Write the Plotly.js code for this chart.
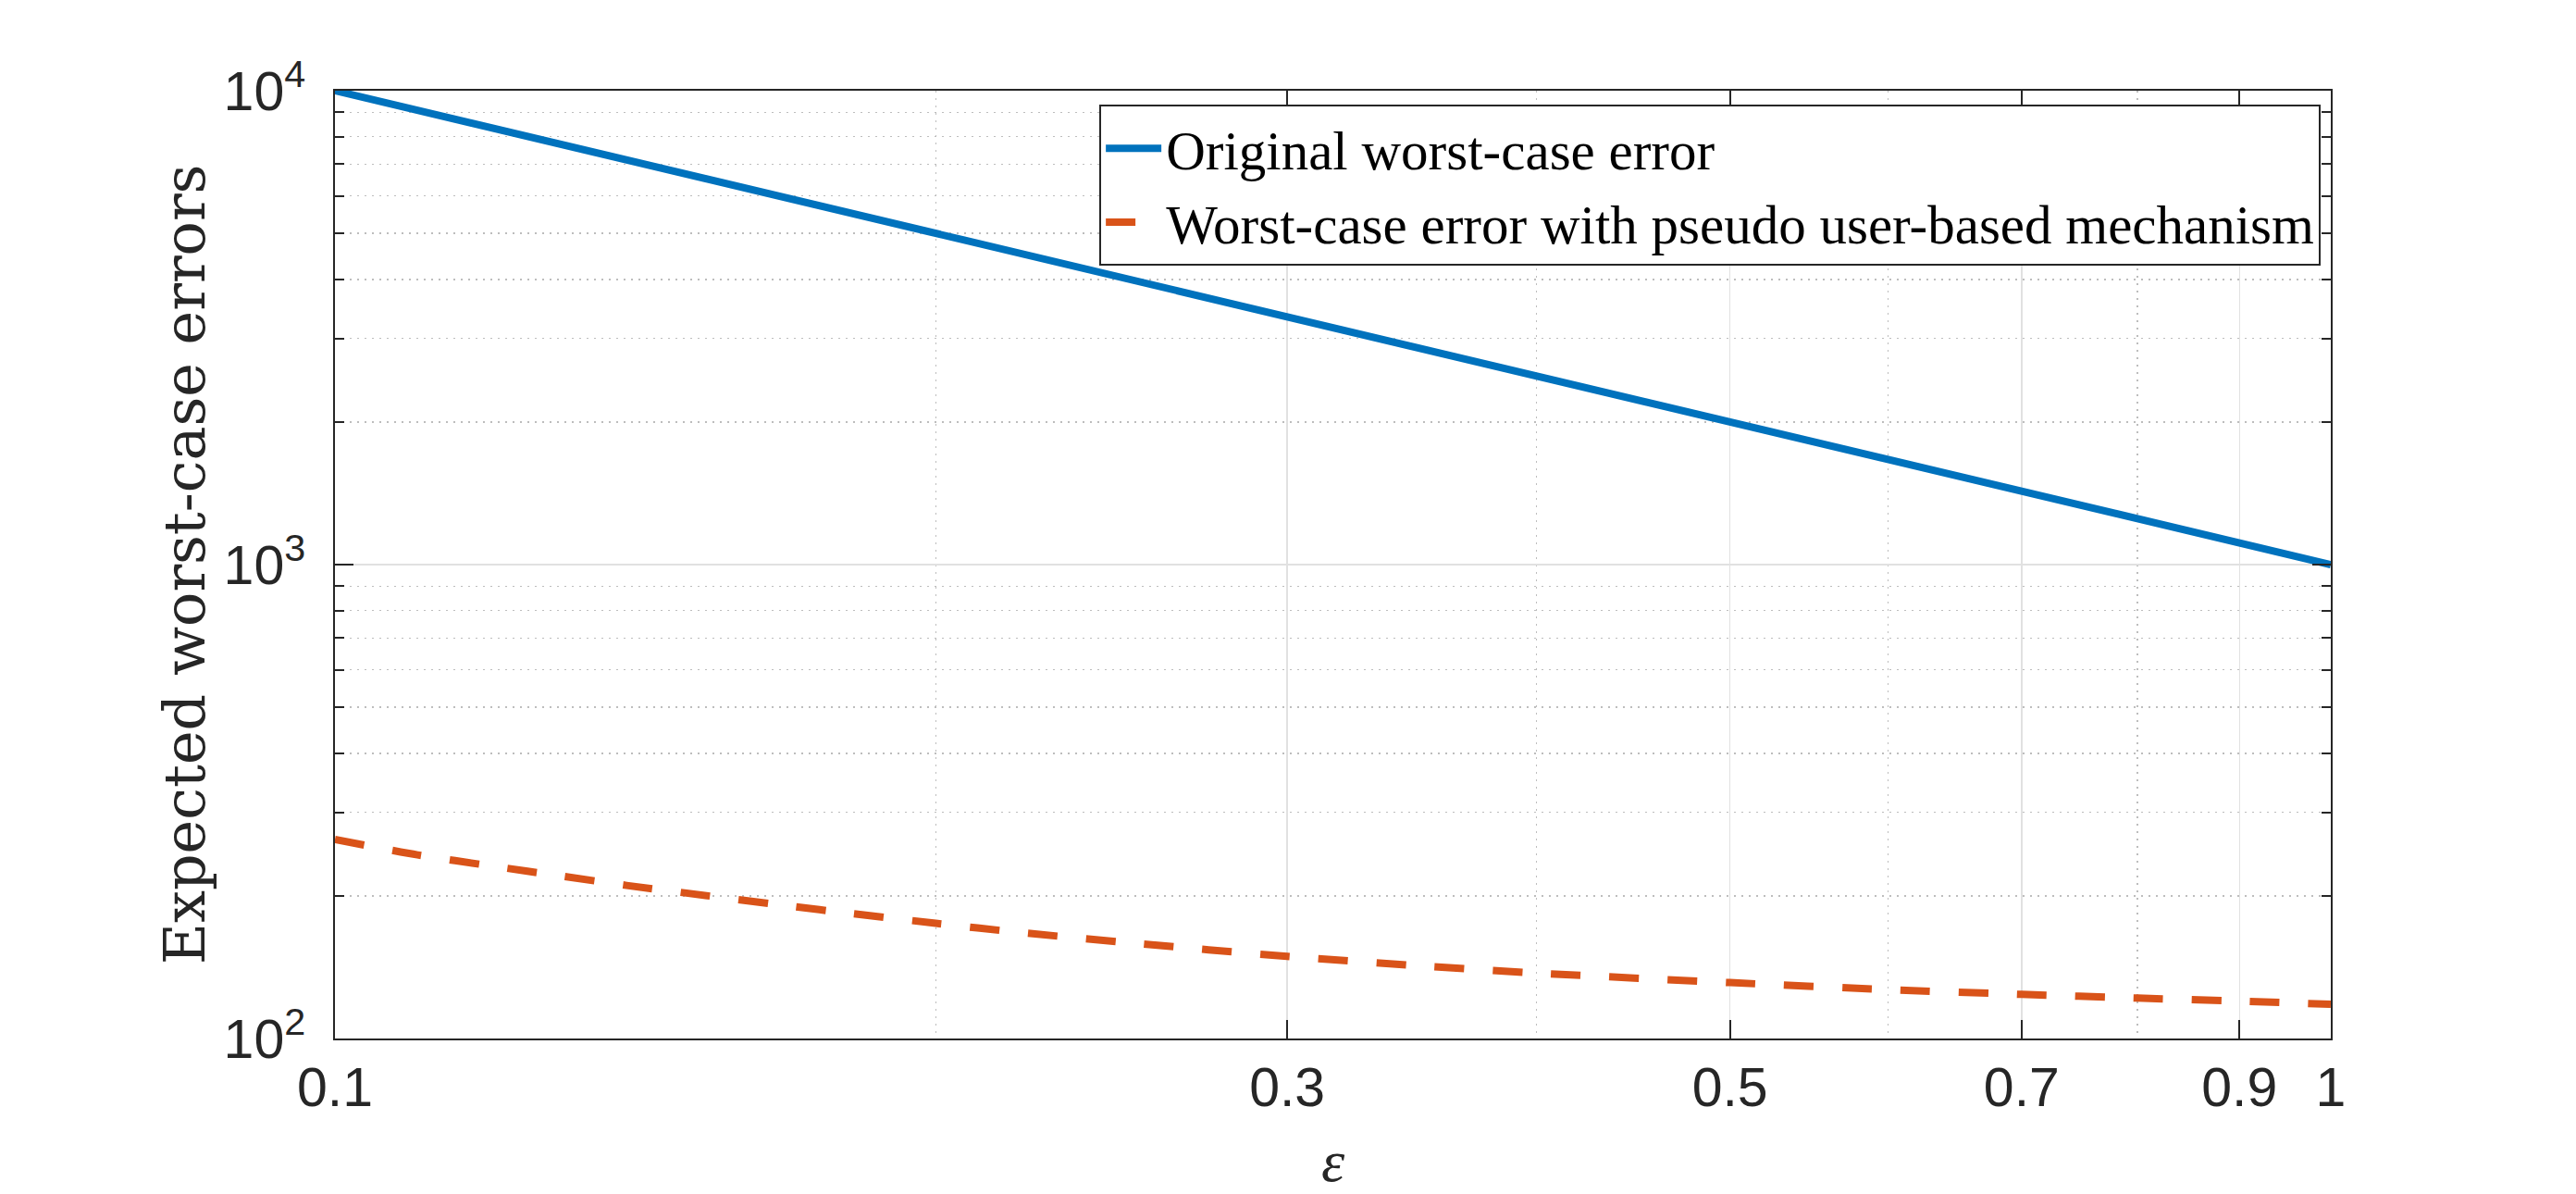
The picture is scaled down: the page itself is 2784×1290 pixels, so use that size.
<!DOCTYPE html>
<html>
<head>
<meta charset="utf-8">
<script src="https://cdn.plot.ly/plotly-3.0.1.min.js"></script>
<style>
  html, body { margin: 0; padding: 0; background: #ffffff; }
  #chart { width: 2784px; height: 1290px; }
</style>
</head>
<body>
<div id="chart"></div>
<script>
// ---- data ----
const epsOriginal = [0.1, 0.2, 0.3, 0.4, 0.5, 0.6, 0.7, 0.8, 0.9, 1.0];
const errOriginal = [10000, 5000, 3333, 2500, 2000, 1667, 1429, 1250, 1111, 1000];

const epsPseudo = [0.1, 0.11, 0.12, 0.13, 0.14, 0.15, 0.17, 0.18, 0.2, 0.22, 0.25, 0.3, 0.35, 0.4, 0.5, 0.6, 0.7, 0.8, 0.9, 1.0];
const errPseudo = [263, 244, 231, 220, 210.4, 202.7, 189.7, 184.3, 175, 167.5, 159.2, 149, 142.3, 137.4, 131.2, 126.8, 123.9, 121.7, 119.9, 118.1];

const seriesNames = ["Original worst-case error", "Worst-case error with pseudo user-based mechanism"];

const xTickVals = [0.1, 0.3, 0.5, 0.7, 0.9, 1];
const xTickText = ["0.1", "0.3", "0.5", "0.7", "0.9", "1"];
const xMinorVals = [0.2, 0.4, 0.6, 0.8];

const yTickVals = [100, 1000, 10000];
const yTickText = ["10<sup>2</sup>", "10<sup>3</sup>", "10<sup>4</sup>"];
const yMinorVals = [200, 300, 400, 500, 600, 700, 800, 900, 2000, 3000, 4000, 5000, 6000, 7000, 8000, 9000];

const xTitle = "<i>ε</i>";
const yTitle = "Expected worst-case errors";

// ---- styling ----
const axisColor = "#262626";
const sansFont = "'Liberation Sans', Arial, Helvetica, sans-serif";
const serifFont = "'Liberation Serif', 'Times New Roman', serif";
const wideSerif = "'DejaVu Serif', 'Liberation Serif', serif";

const traces = [
  {
    x: epsOriginal, y: errOriginal, name: seriesNames[0],
    type: "scatter", mode: "lines",
    line: { color: "#0072BD", width: 8 }
  },
  {
    x: epsPseudo, y: errPseudo, name: seriesNames[1],
    type: "scatter", mode: "lines",
    line: { color: "#D95319", width: 8, dash: "32px,31px", shape: "spline", smoothing: 0.6 }
  }
];

const layout = {
  width: 2784, height: 1290,
  paper_bgcolor: "#ffffff", plot_bgcolor: "#ffffff",
  margin: { l: 362, r: 265, t: 98, b: 168, pad: 0 },
  showlegend: true,
  font: { family: sansFont, color: axisColor, size: 58 },
  xaxis: {
    type: "log", range: [-1, 0],
    tickmode: "array", tickvals: xTickVals, ticktext: xTickText,
    ticks: "inside", ticklen: 20, tickwidth: 2, tickcolor: axisColor,
    ticklabelstandoff: 0,
    tickfont: { family: sansFont, size: 59, color: axisColor },
    showline: true, linecolor: axisColor, linewidth: 2, mirror: "allticks",
    showgrid: true, gridcolor: "#e1e1e1", gridwidth: 1.5,
    zeroline: false,
    minor: {
      tickmode: "array", tickvals: xMinorVals, ticks: "",
      showgrid: true, gridcolor: "#bdbdbd", gridwidth: 1.5, griddash: "2px,6px"
    },
    title: { text: xTitle, font: { family: serifFont, size: 64, color: axisColor }, standoff: 52 }
  },
  yaxis: {
    type: "log", range: [2, 4],
    tickmode: "array", tickvals: yTickVals, ticktext: yTickText,
    ticks: "inside", ticklen: 20, tickwidth: 2, tickcolor: axisColor,
    ticklabelstandoff: 18,
    tickfont: { family: sansFont, size: 59, color: axisColor },
    showline: true, linecolor: axisColor, linewidth: 2, mirror: "allticks",
    showgrid: true, gridcolor: "#e1e1e1", gridwidth: 1.5,
    zeroline: false,
    minor: {
      tickmode: "array", tickvals: yMinorVals, ticks: "inside", ticklen: 10,
      tickwidth: 2, tickcolor: axisColor,
      showgrid: true, gridcolor: "#bdbdbd", gridwidth: 1.5, griddash: "2px,6px"
    },
    title: { text: yTitle, font: { family: wideSerif, size: 62, color: axisColor }, standoff: 0 }
  },
  legend: {
    x: 0.383, y: 0.985, xanchor: "left", yanchor: "top",
    xref: "paper", yref: "paper",
    bgcolor: "#ffffff", bordercolor: axisColor, borderwidth: 2,
    font: { family: serifFont, size: 59, color: "#000000" },
    itemwidth: 60, tracegroupgap: 0
  }
};

Plotly.newPlot("chart", traces, layout, { displayModeBar: false, staticPlot: true });
</script>
</body>
</html>
